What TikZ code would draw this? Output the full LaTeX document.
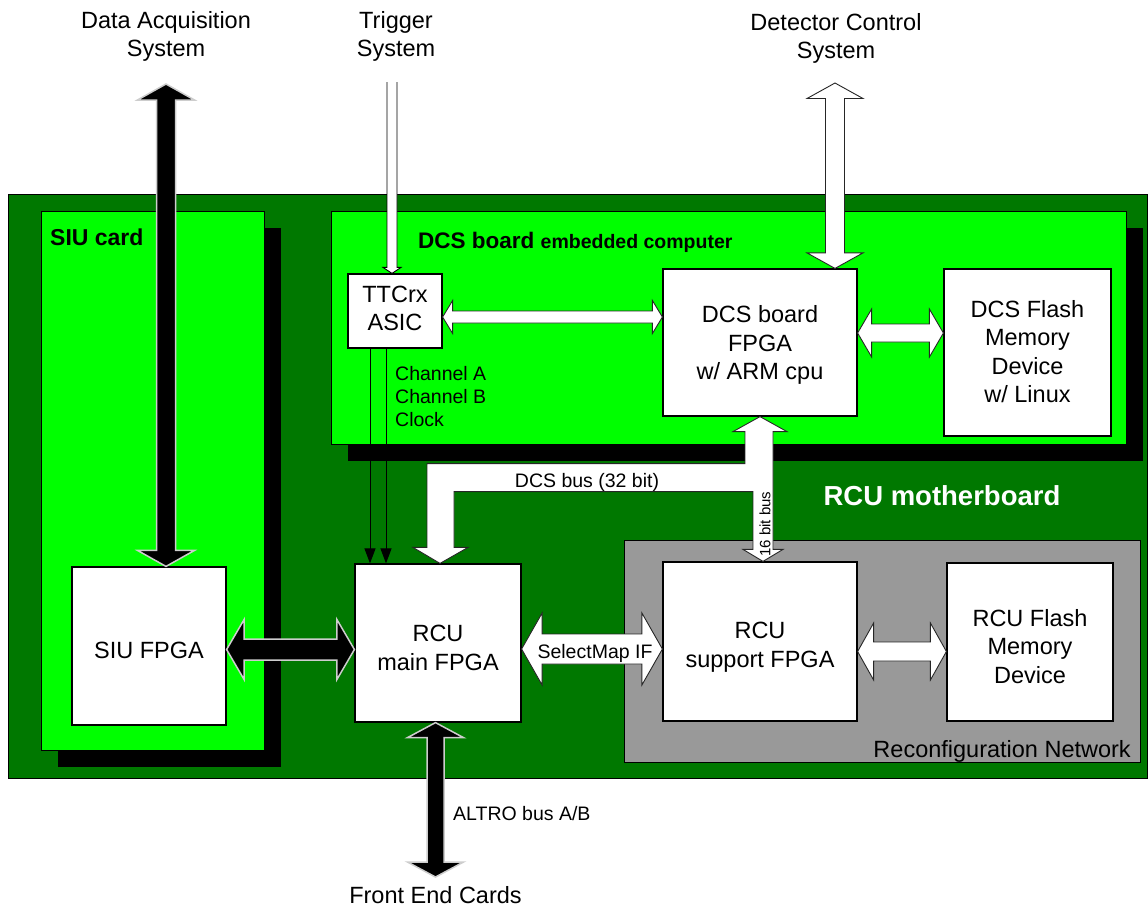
\documentclass[tikz,border=0pt]{standalone}
\usepackage{fontspec}
\setmainfont{Liberation Sans}
\usetikzlibrary{arrows.meta,calc}

\definecolor{mobo}{RGB}{0,120,0}
\definecolor{card}{RGB}{0,255,0}
\definecolor{recon}{RGB}{153,153,153}
\definecolor{halo}{RGB}{205,205,205}

\newcommand\bigtxt{\fontsize{23.5}{28.5}\selectfont}
\newcommand\midtxt{\fontsize{19.5}{23}\selectfont}

% horizontal block double arrow: [style]{left tip}{right tip}{shaft half}{head half}{head length}
\newcommand\busH[6][]{%
  \draw[#1] let \p1=(#2), \p2=(#3) in
    (\x1,\y1) -- (\x1+#6,\y1+#5) -- (\x1+#6,\y1+#4) -- (\x2-#6,\y1+#4) -- (\x2-#6,\y1+#5)
    -- (\x2,\y1) -- (\x2-#6,\y1-#5) -- (\x2-#6,\y1-#4) -- (\x1+#6,\y1-#4) -- (\x1+#6,\y1-#5) -- cycle;}
% vertical block double arrow: [style]{top tip}{bottom tip}{shaft half}{head half}{head length}
\newcommand\busV[6][]{%
  \draw[#1] let \p1=(#2), \p2=(#3) in
    (\x1,\y1) -- (\x1+#5,\y1-#6) -- (\x1+#4,\y1-#6) -- (\x1+#4,\y2+#6) -- (\x1+#5,\y2+#6)
    -- (\x1,\y2) -- (\x1-#5,\y2+#6) -- (\x1-#4,\y2+#6) -- (\x1-#4,\y1-#6) -- (\x1-#5,\y1-#6) -- cycle;}

\begin{document}
\begin{tikzpicture}[x=1pt,y=-1pt,
  box/.style={draw=black,line width=1.2pt,fill=white,inner sep=0pt},
  boxtext/.style={inner sep=0pt,align=center,font=\bigtxt},
  panel/.style={draw=black,line width=1pt},
  blackbus/.style={fill=black,draw=halo,line width=1.5pt},
  whitebus/.style={fill=white,draw=black!85,line width=0.9pt},
  lbl/.style={inner sep=0pt,font=\bigtxt,align=center},
  small/.style={inner sep=0pt,font=\midtxt},
  signal/.style={line width=1pt,-{Triangle[length=15pt,width=11pt]}}]

\useasboundingbox (0,0) rectangle (1148,906);
\fill[white] (0,0) rectangle (1148,906);

% boards
\draw[panel,fill=mobo] (8,194) rectangle (1147,778);
\fill[black] (58,228) rectangle (281,767);
\draw[panel,fill=card] (41,211) rectangle (264,750);
\fill[black] (348,228) rectangle (1143,461);
\draw[panel,fill=card] (331,211) rectangle (1126,444);
\draw[panel,fill=recon] (624,540) rectangle (1140,762);

% board titles
\node[inner sep=0pt,anchor=base west,font=\fontsize{23}{27}\selectfont\bfseries] (siutitle) at (50,245) {SIU card};
\node[inner sep=0pt,anchor=base west] (dcstitle) at (418,248)
  {\fontsize{22.5}{26}\selectfont\bfseries DCS board \fontsize{19.5}{23}\selectfont embedded computer};
\node[inner sep=0pt,anchor=base,text=white,font=\fontsize{27.5}{32}\selectfont\bfseries] (motitle) at (942,505) {RCU motherboard};
\node[inner sep=0pt,anchor=base east,font=\fontsize{23.5}{27}\selectfont] (rntitle) at (1131,757) {Reconfiguration Network};

% functional blocks
\node[box,minimum width=154,minimum height=158] (siufpga) at (149,646) {};
\node[box,minimum width=166,minimum height=158] (rcumain) at (438,643) {};
\node[box,minimum width=194,minimum height=159] (rcusup) at (760,641.5) {};
\node[box,minimum width=166,minimum height=158] (rcuflash) at (1030,642) {};
\node[box,minimum width=194,minimum height=147] (dcsfpga) at (760,342.5) {};
\node[box,minimum width=167,minimum height=167] (dcsflash) at (1027.5,352.5) {};
\node[box,minimum width=94,minimum height=74] (ttc) at (395,311) {};

\node[boxtext,yshift=-4pt] (siufpgaT) at (siufpga) {SIU FPGA};
\node[boxtext,yshift=-5pt] (rcumainT) at (rcumain) {RCU\\main FPGA};
\node[boxtext,yshift=-5.5pt] (rcusupT) at (rcusup) {RCU\\support FPGA};
\node[boxtext,yshift=-4.5pt] (rcuflashT) at (rcuflash) {RCU Flash\\Memory\\Device};
\node[boxtext,yshift=-2.5pt] (dcsfpgaT) at (dcsfpga) {DCS board\\FPGA\\w/ ARM cpu};
\node[boxtext,yshift=1pt] (dcsflashT) at (dcsflash) {DCS Flash\\Memory\\Device\\w/ Linux};
\node[boxtext,yshift=2.5pt] (ttcT) at (ttc) {TTCrx\\ASIC};

% external systems
\node[lbl,anchor=north] (daq) at (166,11) {Data Acquisition\\System};
\node[lbl,anchor=north] (trig) at (396,11) {Trigger\\System};
\node[lbl,anchor=north] (dcsext) at (836,13) {Detector Control\\System};
\node[lbl,anchor=base] (fec) at (435.5,903) {Front End Cards};

% helper levels and free ends
\coordinate (daqtip) at (166,84);
\coordinate (trigtop) at (392,82);
\coordinate (dcstip) at (835,83);
\coordinate (fectip) at (435.5,877);
\coordinate (lvTTC) at (0,317);
\coordinate (lvDCS) at (0,333);
\coordinate (lvSIU) at (0,649.5);
\coordinate (lvSM) at (0,649);
\coordinate (lvRF) at (0,651.5);
\coordinate (chA) at (370,0);
\coordinate (chB) at (386,0);

% DAQ link
\busV[blackbus]{daqtip}{daqtip |- siufpga.north}{9.5pt}{28.5pt}{16pt}

% trigger input
\path[fill=white,draw=black,line width=0.9pt] let \p1=(trigtop), \p2=(trigtop |- ttc.north) in
  (\x1-5pt,\y1) -- (\x1-5pt,\y2+6pt) -- (\x1-9pt,\y2+6pt) -- (\x2,\y2)
  -- (\x1+9pt,\y2+6pt) -- (\x1+5pt,\y2+6pt) -- (\x1+5pt,\y1);

% DCS link
\busV[whitebus]{dcstip}{dcstip |- dcsfpga.north}{9.5pt}{28pt}{15.5pt}

% TTCrx <-> DCS FPGA
\busH[whitebus]{ttc.east |- lvTTC}{dcsfpga.west |- lvTTC}{6pt}{16.5pt}{10pt}
% DCS FPGA <-> DCS flash
\busH[whitebus]{dcsfpga.east |- lvDCS}{dcsflash.west |- lvDCS}{9pt}{24pt}{14pt}

% TTCrx channels to RCU
\draw[signal] (ttc.south -| chA) -- (rcumain.north -| chA);
\draw[signal] (ttc.south -| chB) -- (rcumain.north -| chB);
\node[small,anchor=north west,align=left] (chlbl) at (395,366) {Channel A\\Channel B\\Clock};

% DCS bus (32 bit) and 16 bit bus
\draw[whitebus] let \p1=(dcsfpga.south), \p2=(rcusup.north), \p3=(rcumain.north) in
  (\x1,\y1) -- (\x1+27pt,\y1-15pt) -- (\x1+13pt,\y1-15pt) -- (\x1+13pt,\y2+12pt)
  -- (\x1+23pt,\y2+12pt) -- (\x1+3pt,\y2) -- (\x1-17pt,\y2+12pt) -- (\x1-7pt,\y2+12pt)
  -- (\x1-7pt,\y1-75pt) -- (\x3+16pt,\y1-75pt) -- (\x3+16pt,\y3+16pt) -- (\x3+30pt,\y3+16pt)
  -- (\x3+2pt,\y3) -- (\x3-25pt,\y3+16pt) -- (\x3-11pt,\y3+16pt) -- (\x3-11pt,\y1-47pt)
  -- (\x1-15pt,\y1-47pt) -- (\x1-15pt,\y1-15pt) -- (\x1-27pt,\y1-15pt) -- cycle;
\node[small,anchor=base] (dcsbus) at (587,487) {DCS bus (32 bit)};
\node[inner sep=0pt,font=\fontsize{15}{18}\selectfont,rotate=90] (bus16) at (765,524) {16 bit bus};

% SIU FPGA <-> RCU main FPGA
\busH[blackbus]{siufpga.east |- lvSIU}{rcumain.west |- lvSIU}{10.5pt}{30pt}{17.5pt}
% SelectMap interface
\busH[whitebus]{rcumain.east |- lvSM}{rcusup.west |- lvSM}{15pt}{36pt}{20.5pt}
\node[small,anchor=base] (smif) at (595,658) {SelectMap IF};
% RCU support FPGA <-> RCU flash
\busH[whitebus]{rcusup.east |- lvRF}{rcuflash.west |- lvRF}{9.5pt}{28.5pt}{16pt}

% ALTRO bus to front end cards
\busV[blackbus]{fectip |- rcumain.south}{fectip}{8.5pt}{28pt}{15pt}
\node[small,anchor=base west] (altro) at (453,820) {ALTRO bus A/B};

\end{tikzpicture}
\end{document}
